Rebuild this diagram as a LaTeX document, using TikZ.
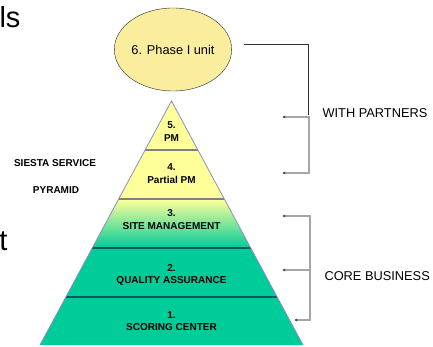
\documentclass[tikz,border=0pt]{standalone}
\usepackage{fontspec}
\setmainfont{Liberation Sans}
\usepackage{tikz}
\usetikzlibrary{arrows.meta,shapes.geometric}

\definecolor{pyryellow}{HTML}{FFFF99}
\definecolor{unityellow}{HTML}{FAEE9E}
\definecolor{coreteal}{HTML}{00CC99}
\definecolor{edgeblue}{HTML}{8C8CC8}
\definecolor{bargray}{HTML}{A6A6A6}

\begin{document}
\begin{tikzpicture}[x=1pt, y=-1pt,
    layertext/.style={font=\fontsize{10}{12.5}\selectfont\bfseries, align=center},
    sidetext/.style={font=\fontsize{12.8}{14}\selectfont, anchor=west},
    bigtext/.style={font=\fontsize{29}{30}\selectfont, anchor=base east},
    bracket/.style={draw=bargray, line width=1.6pt},
    armtip/.tip={Latex[length=3pt, width=2.8pt, color=black!75]}]
    \useasboundingbox (0,0) rectangle (433,347);

    % pyramid layers
    \fill[pyryellow] (171.5,101) -- (197.9,150) -- (145.1,150) -- cycle;
    \fill[pyryellow] (145.1,150) -- (197.9,150) -- (224.3,199) -- (118.7,199) -- cycle;
    \shade[top color=pyryellow, bottom color=coreteal] (118.7,199) -- (224.3,199) -- (250.7,248) -- (92.3,248) -- cycle;
    \fill[coreteal] (92.3,248) -- (250.7,248) -- (303,345) -- (40,345) -- cycle;

    \draw[gray, line width=1.5pt] (145.1,150) -- (197.9,150);
    \draw[gray, line width=1.5pt] (118.7,199) -- (224.3,199);
    \draw[teal!70!black, line width=1.2pt] (92.3,248) -- (250.7,248);
    \draw[teal!70!black, line width=1.2pt] (65.9,297) -- (277.1,297);
    \draw[edgeblue, line width=0.8pt] (40,345) -- (171.5,101) -- (303,345);

    \node[layertext] (pm) at (171.5,131.5) {5.\\PM};
    \node[layertext] (partial) at (171.5,173.5) {4.\\Partial PM};
    \node[layertext] (site) at (171.5,219.5) {3.\\SITE MANAGEMENT};
    \node[layertext] (quality) at (171.5,275) {2.\\QUALITY ASSURANCE};
    \node[layertext] (scoring) at (171.5,321) {1.\\SCORING CENTER};

    \node[draw=black!85, fill=unityellow, ellipse, minimum width=94pt, minimum height=83pt, inner sep=0pt,
        font=\fontsize{12.8}{14}\selectfont] (unit) at (173,49.5) {6. Phase I unit};

    \node[layertext] (siesta) at (55,163) {SIESTA SERVICE};
    \node[layertext] (pyramid) at (56,190) {PYRAMID};

    \node[bigtext] (ls) at (24,28) {ls};
    \node[bigtext] (t) at (11,250) {t};

    % brackets
    \coordinate (linkstart) at (244,44);
    \coordinate (linkend) at (308,115);
    \draw[black!80, line width=0.8pt] (linkstart) -| (linkend);

    \coordinate (pmarm) at (282,117);
    \coordinate (partialarm) at (282,173);
    \coordinate (sitearm) at (282,216);
    \coordinate (qualityarm) at (282,270);
    \coordinate (scoringarm) at (294,320);
    \coordinate (corebar) at (310,270);

    \draw[bracket, armtip-armtip] (pmarm) -- ++(27,0) |- (partialarm);
    \draw[bracket, armtip-armtip] (sitearm) -- ++(28,0) |- (scoringarm);
    \draw[bracket, -armtip] (corebar) -- (qualityarm);

    \node[sidetext] (partners) at (319,113) {WITH PARTNERS};
    \node[sidetext] (core) at (321,276) {CORE BUSINESS};
\end{tikzpicture}
\end{document}
